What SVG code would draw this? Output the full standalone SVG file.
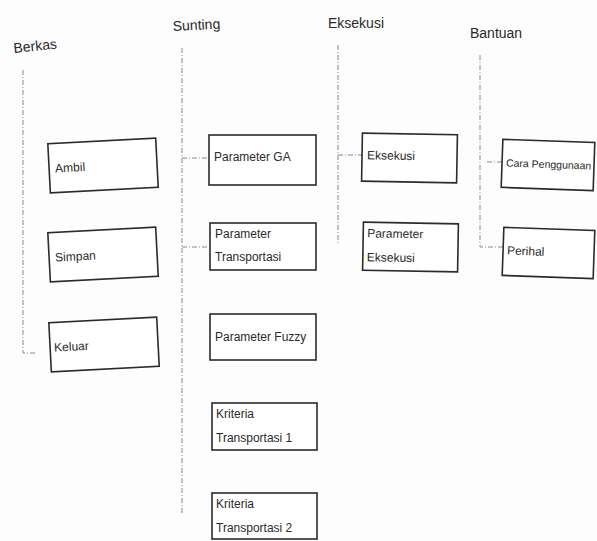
<svg xmlns="http://www.w3.org/2000/svg" width="597" height="541" viewBox="0 0 597 541">
<style>
.bg{fill:#fdfdfd}
.hdr{font-family:"Liberation Sans Narrow","Liberation Sans",Arial,sans-serif;font-size:14px;fill:#2a2a2a}
.lbl{font-family:"Liberation Sans Narrow","Liberation Sans",Arial,sans-serif;font-size:12px;fill:#2a2a2a}
.sm{font-size:10.5px}
.box{fill:#ffffff;stroke:#2b2b2b;stroke-width:1.6}
.con{fill:none;stroke:#8a8a8a;stroke-width:1;stroke-dasharray:5 2 1 2}
</style>
<rect class="bg" x="0" y="0" width="597" height="541"/>
<g id="headers">
<text class="hdr" x="14" y="53" transform="rotate(-6 14 53)">Berkas</text>
<text class="hdr" x="173" y="31" transform="rotate(-3 173 31)">Sunting</text>
<text class="hdr" x="328" y="28">Eksekusi</text>
<text class="hdr" x="470" y="38">Bantuan</text>
</g>
<g id="connectors">
<polyline class="con" points="23,70 23,353 35,353"/>
<line class="con" x1="182" y1="48" x2="182" y2="515"/>
<line class="con" x1="182" y1="158" x2="207" y2="158"/>
<line class="con" x1="182" y1="247" x2="209" y2="247"/>
<line class="con" x1="338" y1="45" x2="338" y2="245"/>
<line class="con" x1="338" y1="155" x2="362" y2="155"/>
<polyline class="con" points="480,55 480,247 503,247"/>
<line class="con" x1="487" y1="162" x2="502" y2="162"/>
</g>
<g id="ambil" transform="rotate(-3 103 165)">
<rect class="box" x="49" y="141" width="108" height="49"/>
<text class="lbl" x="55" y="170">Ambil</text>
</g>
<g id="simpan" transform="rotate(-3 103 254)">
<rect class="box" x="49" y="230" width="108" height="49"/>
<text class="lbl" x="55" y="259">Simpan</text>
</g>
<g id="keluar" transform="rotate(-3 104 344)">
<rect class="box" x="50" y="320" width="108" height="49"/>
<text class="lbl" x="54" y="349">Keluar</text>
</g>
<g id="parameter-ga">
<rect class="box" x="209" y="135" width="107" height="50"/>
<text class="lbl" x="214" y="161">Parameter GA</text>
</g>
<g id="parameter-transportasi">
<rect class="box" x="210" y="223" width="106" height="47"/>
<text class="lbl" x="215" y="238">Parameter</text>
<text class="lbl" x="215" y="261">Transportasi</text>
</g>
<g id="parameter-fuzzy">
<rect class="box" x="210" y="314" width="106" height="46"/>
<text class="lbl" x="215" y="341">Parameter Fuzzy</text>
</g>
<g id="kriteria-transportasi-1">
<rect class="box" x="212" y="403" width="105" height="47"/>
<text class="lbl" x="216" y="418">Kriteria</text>
<text class="lbl" x="216" y="442">Transportasi 1</text>
</g>
<g id="kriteria-transportasi-2">
<rect class="box" x="212" y="493" width="105" height="46"/>
<text class="lbl" x="216" y="508">Kriteria</text>
<text class="lbl" x="216" y="532">Transportasi 2</text>
</g>
<g id="eksekusi" transform="rotate(1 410 158)">
<rect class="box" x="362" y="134" width="95" height="48"/>
<text class="lbl" x="367" y="160">Eksekusi</text>
</g>
<g id="parameter-eksekusi" transform="rotate(1 410 247)">
<rect class="box" x="363" y="223" width="95" height="48"/>
<text class="lbl" x="367" y="238">Parameter</text>
<text class="lbl" x="367" y="262">Eksekusi</text>
</g>
<g id="cara-penggunaan" transform="rotate(2 549 165)">
<rect class="box" x="502" y="141" width="92" height="48"/>
<text class="lbl sm" x="506" y="168">Cara Penggunaan</text>
</g>
<g id="perihal" transform="rotate(2 549 253)">
<rect class="box" x="503" y="229" width="91" height="48"/>
<text class="lbl" x="507" y="256">Perihal</text>
</g>
</svg>
